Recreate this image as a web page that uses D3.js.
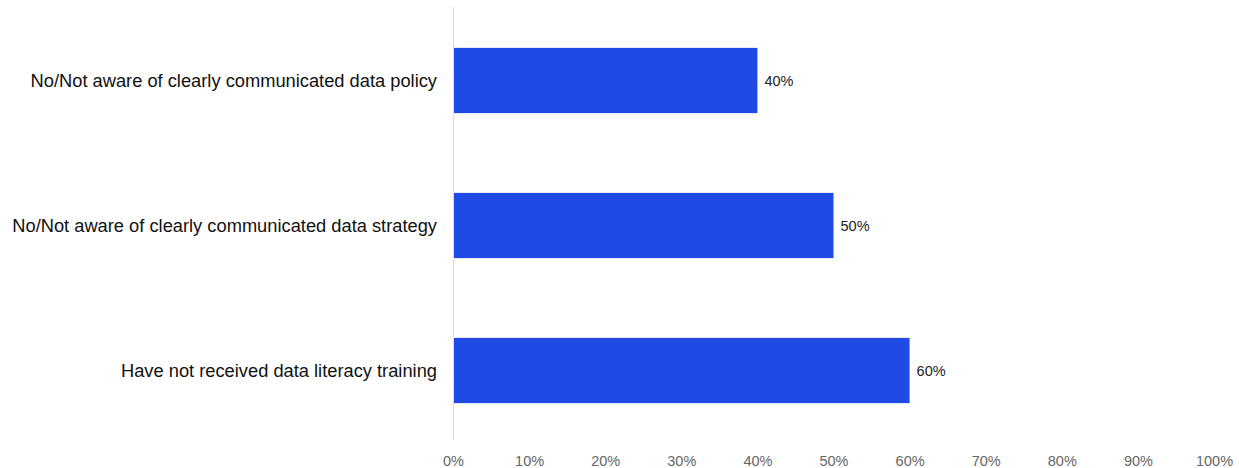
<!DOCTYPE html>
<html><head><meta charset="utf-8">
<script src="https://cdn.jsdelivr.net/npm/d3@7"></script>
<style>body{margin:0;background:#fff}svg{display:block}</style>
</head><body>
<svg id="c" width="1239" height="468"></svg>
<script>
const categories = ["No/Not aware of clearly communicated data policy","No/Not aware of clearly communicated data strategy","Have not received data literacy training"];
const values = [40, 50, 60];
const tickValues = [0,10,20,30,40,50,60,70,80,90,100];
const tickLabels = ["0%","10%","20%","30%","40%","50%","60%","70%","80%","90%","100%"];

const svg = d3.select("#c");
const x = d3.scaleLinear().domain([0,100]).range([453,1214]);
const y = d3.scaleBand().domain(categories).range([8,443]).paddingInner(0.55).paddingOuter(0.275);

svg.append("line").attr("x1",453.5).attr("x2",453.5).attr("y1",7).attr("y2",440)
  .attr("stroke","#dcdcdc").attr("stroke-width",1);

svg.selectAll("rect.bar").data(values).join("rect").attr("class","bar")
  .attr("x",x(0)+1).attr("y",(d,i)=>y(categories[i]))
  .attr("width",d=>x(d)-x(0)-1).attr("height",y.bandwidth())
  .attr("fill","#1f4be4");

svg.selectAll("text.val").data(values).join("text").attr("class","val")
  .attr("x",d=>x(d)+7).attr("y",(d,i)=>y(categories[i])+y.bandwidth()/2)
  .attr("dy","0.35em").attr("font-family","Liberation Sans, Arial, sans-serif")
  .attr("font-size",14.5).attr("fill","#222").text(d=>d+"%");

svg.selectAll("text.cat").data(categories).join("text").attr("class","cat")
  .attr("x",437).attr("y",d=>y(d)+y.bandwidth()/2)
  .attr("dy","0.35em").attr("text-anchor","end")
  .attr("font-family","Liberation Sans, Arial, sans-serif")
  .attr("font-size",18.3).attr("fill","#111").text(d=>d);

const axis = d3.axisBottom(x).tickValues(tickValues).tickSize(0).tickFormat((d,i)=>tickLabels[i]);
const g = svg.append("g").attr("transform","translate(0,461)").call(axis);
g.select(".domain").remove();
g.selectAll("text").attr("font-family","Liberation Sans, Arial, sans-serif")
  .attr("font-size",14.5).attr("fill","#666").attr("y",0).attr("dy","0.35em");
</script>
</body></html>
